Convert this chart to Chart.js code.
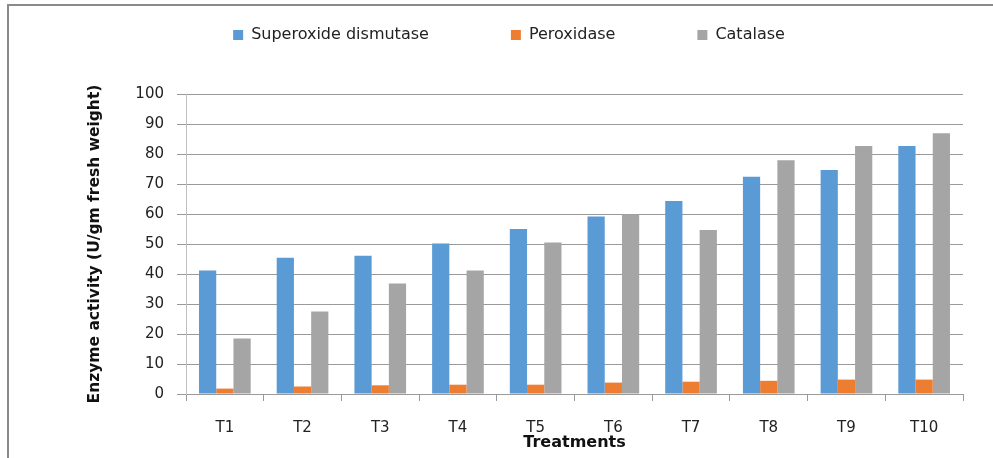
<!DOCTYPE html>
<html>
<head>
<meta charset="utf-8">
<script src="https://cdn.jsdelivr.net/npm/chart.js@4/dist/chart.umd.min.js"></script>
<style>
  html, body { margin: 0; padding: 0; background: #fff; }
  #wrap { position: relative; width: 993px; height: 458px; overflow: hidden; }
  #frame { position: absolute; left: 7px; top: 4px; width: 1000px; height: 500px;
           border-left: 2px solid #8a8a8a; border-top: 2px solid #8a8a8a; pointer-events: none; }
  canvas { position: absolute; left: 0; top: 0; }
</style>
</head>
<body>
<div id="wrap">
  <canvas id="c" width="993" height="458"></canvas>
  <div id="frame"></div>
</div>
<script>
const categories = ['T1', 'T2', 'T3', 'T4', 'T5', 'T6', 'T7', 'T8', 'T9', 'T10'];
const superoxideDismutase = [41.2, 45.4, 46.1, 50.2, 55.0, 59.2, 64.3, 72.4, 74.7, 82.7];
const peroxidase = [1.8, 2.5, 2.9, 3.1, 3.1, 3.8, 4.1, 4.4, 4.8, 4.8];
const catalase = [18.5, 27.5, 36.8, 41.2, 50.5, 59.8, 54.7, 77.9, 82.7, 86.9];
const yTicks = [0, 10, 20, 30, 40, 50, 60, 70, 80, 90, 100];

const FONT = "'DejaVu Sans', sans-serif";

const legendSpacer = {
  id: 'legendSpacer',
  beforeLayout(chart) {
    const lg = chart.legend;
    if (lg && !lg._spacerPatched) {
      const origFit = lg.fit.bind(lg);
      lg.fit = function () { origFit(); this.height = 149; };
      lg._spacerPatched = true;
    }
  }
};

new Chart(document.getElementById('c'), {
  type: 'bar',
  data: {
    labels: categories,
    datasets: [
      { label: 'Superoxide dismutase', data: superoxideDismutase, backgroundColor: '#5B9BD5' },
      { label: 'Peroxidase', data: peroxidase, backgroundColor: '#ED7D31' },
      { label: 'Catalase', data: catalase, backgroundColor: '#A5A5A5' }
    ]
  },
  options: {
    responsive: false,
    animation: false,
    devicePixelRatio: 1,
    datasets: { bar: { categoryPercentage: 0.665, barPercentage: 1.0 } },
    layout: { padding: { left: 55, right: 30, top: -55, bottom: 0 } },
    plugins: {
      tooltip: { enabled: false },
      legend: {
        position: 'top',
        labels: {
          boxWidth: 10, boxHeight: 10, padding: 82,
          color: '#222',
          font: { family: FONT, size: 16 }
        }
      }
    },
    scales: {
      x: {
        grid: { display: true, drawOnChartArea: false, drawTicks: true, tickLength: 7, color: '#9a9a9a', offset: true },
        border: { display: true, color: '#9a9a9a', width: 1 },
        ticks: { color: '#222', padding: 18, font: { family: FONT, size: 15 } },
        title: { display: true, text: 'Treatments', color: '#111',
                 font: { family: FONT, size: 16, weight: 'bold' }, padding: { top: 0, bottom: 6 } },
        afterFit(scale) { scale.height = 64; }
      },
      y: {
        min: 0, max: 100,
        afterBuildTicks(scale) { scale.ticks = yTicks.map(v => ({ value: v })); },
        grid: { color: '#9a9a9a', lineWidth: 1, drawTicks: true, tickLength: 9 },
        border: { display: true, color: '#c0c0c0', width: 1 },
        ticks: { color: '#222', padding: 13, font: { family: FONT, size: 15 } },
        title: { display: true, text: 'Enzyme activity (U/gm fresh weight)', color: '#111',
                 font: { family: FONT, size: 15.5, weight: 'bold' }, padding: { top: 31, bottom: 0 } },
        afterFit(scale) { scale.width = 131; }
      }
    }
  },
  plugins: [legendSpacer]
});
</script>
</body>
</html>
